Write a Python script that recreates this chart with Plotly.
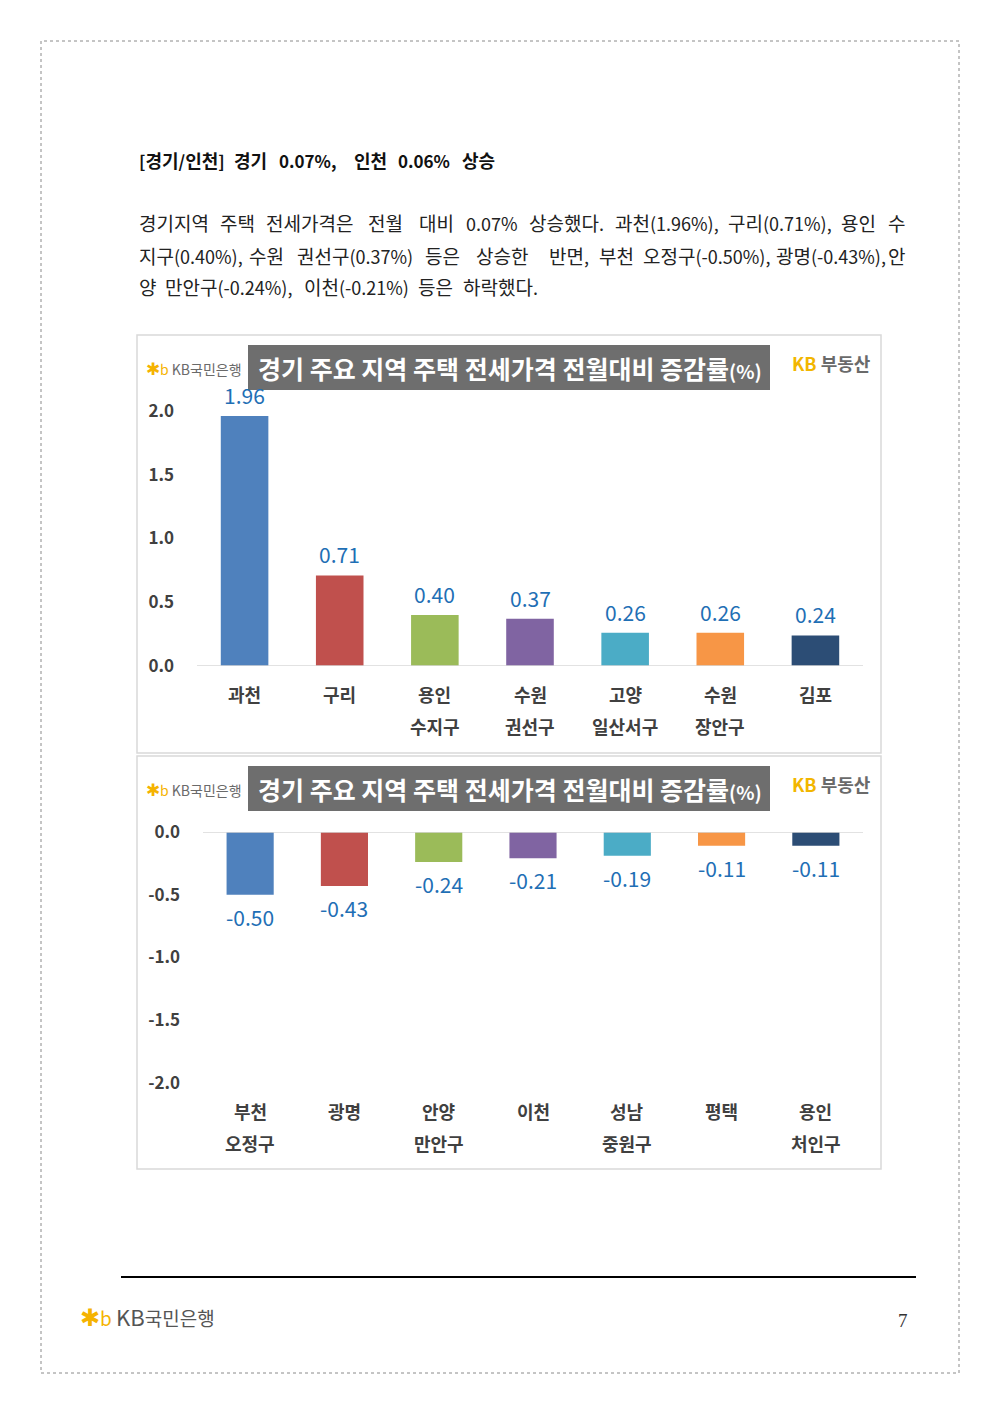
import re
import plotly.graph_objects as go

# ---------------- data ----------------
cats_up_l1 = ["과천", "구리", "용인", "수원", "고양", "수원", "김포"]
cats_up_l2 = ["", "", "수지구", "권선구", "일산서구", "장안구", ""]
vals_up = [1.96, 0.71, 0.40, 0.37, 0.26, 0.26, 0.24]

cats_dn_l1 = ["부천", "광명", "안양", "이천", "성남", "평택", "용인"]
cats_dn_l2 = ["오정구", "", "만안구", "", "중원구", "", "처인구"]
vals_dn = [-0.50, -0.43, -0.24, -0.21, -0.19, -0.11, -0.11]

ticks_up = [0.0, 0.5, 1.0, 1.5, 2.0]
ticks_dn = [0.0, -0.5, -1.0, -1.5, -2.0]

colors = ["#4F81BD", "#C0504D", "#9BBB59", "#8064A2", "#4BACC6", "#F79646", "#2C4D75"]

header = "[경기/인천] 경기 0.07%, 인천 0.06% 상승"
body_lines = [
    "경기지역 주택 전세가격은 전월 대비 0.07% 상승했다. 과천(1.96%), 구리(0.71%), 용인 수",
    "지구(0.40%), 수원 권선구(0.37%) 등은 상승한 반면, 부천 오정구(-0.50%), 광명(-0.43%), 안",
    "양 만안구(-0.24%), 이천(-0.21%) 등은 하락했다.",
]
chart_title = "경기 주요 지역 주택 전세가격 전월대비 증감률"

# word anchor positions (px): first word left edge, last word right edge (if justified), others centres
header_x = [137, 250, 308, 370, 424, 497]
body_x = [
    [137, 237.5, 309.5, 385, 436.5, 491.5, 566.5, 667, 779.5, 858, 907],
    [137, 266, 355, 442, 502, 568.5, 616, 706, 831, 907],
    [137, 228.5, 356.5, 435, 500],
]
body_justified = [True, True, False]

W, H = 1000, 1414
def X(px):
    return px / W
def Y(py):
    return 1 - py / H

KR = "Noto Sans CJK KR"
DARK = "#404040"
BLUE = "#1F6FB5"

annotations = []
shapes = []

def shrink_ascii(word, size):
    # Latin runs a little smaller, to match the narrower digits of the original font
    return re.sub(r"([^\uac00-\ud7a3]+)", lambda m: f"<span style='font-size:{size}px'>{m.group(1)}</span>", word)

def place_words(line, xs, py, size, asize, color, bold=False, right_last=True):
    words = line.split(" ")
    n = len(words)
    for i, (w, x) in enumerate(zip(words, xs)):
        if i == 0:
            anchor = "left"
        elif i == n - 1 and right_last:
            anchor = "right"
        else:
            anchor = "center"
        annotations.append(dict(
            x=X(x), y=Y(py), xref="paper", yref="paper", showarrow=False,
            xanchor=anchor, yanchor="middle", text=shrink_ascii(w, asize),
            font=dict(family=KR, size=size, color=color, weight="bold" if bold else "normal")))

keys_up = [f"u{i}" for i in range(len(vals_up))]
keys_dn = [f"d{i}" for i in range(len(vals_dn))]

fig = go.Figure()
fig.add_trace(go.Bar(x=keys_up, y=vals_up, marker_color=colors, marker_line_width=0,
                     xaxis="x", yaxis="y", showlegend=False, hoverinfo="skip"))
fig.add_trace(go.Bar(x=keys_dn, y=vals_dn, marker_color=colors, marker_line_width=0,
                     xaxis="x2", yaxis="y2", showlegend=False, hoverinfo="skip"))

# ---- data labels & category labels ----
for k, v, l1, l2 in zip(keys_up, vals_up, cats_up_l1, cats_up_l2):
    annotations.append(dict(x=k, y=v, xref="x", yref="y", text=f"{v:.2f}", showarrow=False,
                            yanchor="middle", yshift=21, font=dict(family=KR, size=21, color=BLUE)))
    annotations.append(dict(x=k, y=Y(694), xref="x", yref="paper", text=l1, showarrow=False,
                            yanchor="middle", font=dict(family=KR, size=18, color=DARK, weight="bold")))
    if l2:
        annotations.append(dict(x=k, y=Y(726), xref="x", yref="paper", text=l2, showarrow=False,
                                yanchor="middle", font=dict(family=KR, size=18, color=DARK, weight="bold")))
for k, v, l1, l2 in zip(keys_dn, vals_dn, cats_dn_l1, cats_dn_l2):
    annotations.append(dict(x=k, y=v, xref="x2", yref="y2", text=f"{v:.2f}", showarrow=False,
                            yanchor="middle", yshift=-22, font=dict(family=KR, size=21, color=BLUE)))
    annotations.append(dict(x=k, y=Y(1111), xref="x2", yref="paper", text=l1, showarrow=False,
                            yanchor="middle", font=dict(family=KR, size=18, color=DARK, weight="bold")))
    if l2:
        annotations.append(dict(x=k, y=Y(1143), xref="x2", yref="paper", text=l2, showarrow=False,
                                yanchor="middle", font=dict(family=KR, size=18, color=DARK, weight="bold")))

# ---- baselines ----
shapes.append(dict(type="line", xref="x domain", yref="y", x0=0, x1=1, y0=0, y1=0,
                   line=dict(color="#D9D9D9", width=1.5)))
shapes.append(dict(type="line", xref="x2 domain", yref="y2", x0=0, x1=1, y0=0, y1=0,
                   line=dict(color="#D9D9D9", width=1.5)))

# ---- page border, panels ----
shapes.append(dict(type="rect", xref="paper", yref="paper", x0=X(41), x1=X(959), y0=Y(1373), y1=Y(41),
                   line=dict(color="#8A8A8A", width=1, dash="dot")))
for top, bot in [(335, 753), (756, 1169)]:
    shapes.append(dict(type="rect", xref="paper", yref="paper", x0=X(137), x1=X(881), y0=Y(bot), y1=Y(top),
                       line=dict(color="#D9D9D9", width=1.5)))
for top, bot in [(345, 390), (766, 811)]:
    shapes.append(dict(type="rect", xref="paper", yref="paper", x0=X(248), x1=X(770), y0=Y(bot), y1=Y(top),
                       fillcolor="#6E6E6E", line=dict(width=0), layer="below"))
    cy = (top + bot) / 2
    annotations.append(dict(x=X(510), y=Y(cy), xref="paper", yref="paper", showarrow=False,
                            xanchor="center", yanchor="middle",
                            text=chart_title + "<span style='font-size:19px'>(%)</span>",
                            font=dict(family=KR, size=25, color="white", weight="bold")))
    annotations.append(dict(x=X(144), y=Y(top + 22), xref="paper", yref="paper", showarrow=False,
                            xanchor="left", yanchor="middle",
                            text="<span style='color:#F5B301;font-size:17px'>✱</span><span style='color:#F5B301'>b</span> KB국민은행",
                            font=dict(family=KR, size=14, color="#6A6A6A")))
    annotations.append(dict(x=X(790), y=Y(top + 18), xref="paper", yref="paper", showarrow=False,
                            xanchor="left", yanchor="middle",
                            text="<span style='color:#F2B600'>KB</span> 부동산",
                            font=dict(family=KR, size=18, color="#6A6A6A", weight="bold")))

# footer
shapes.append(dict(type="line", xref="paper", yref="paper", x0=X(121), x1=X(916), y0=Y(1277), y1=Y(1277),
                   line=dict(color="black", width=2)))
annotations.append(dict(x=X(78), y=Y(1315), xref="paper", yref="paper", showarrow=False,
                        xanchor="left", yanchor="middle",
                        text="<span style='color:#F5B301;font-size:24px'>✱</span><span style='color:#F5B301'>b</span> <span style='font-size:22px'>KB</span>국민은행",
                        font=dict(family=KR, size=19, color="#555555")))
annotations.append(dict(x=X(903), y=Y(1320), xref="paper", yref="paper", showarrow=False,
                        xanchor="center", yanchor="middle", text="7",
                        font=dict(family="Liberation Serif", size=19, color="#333333")))

# header + body text
place_words(header, header_x, 160, 18, 17, "#111111", bold=True, right_last=True)
for i, (line, xs, just) in enumerate(zip(body_lines, body_x, body_justified)):
    place_words(line, xs, 223 + 32 * i, 19, 18, "#222222", right_last=just)

axis_common = dict(automargin=False, showgrid=False, zeroline=False, showline=False)
fig.update_layout(
    width=W, height=H,
    margin=dict(l=0, r=0, t=0, b=0, autoexpand=False),
    paper_bgcolor="white", plot_bgcolor="white",
    bargap=0.5,
    showlegend=False,
    xaxis=dict(domain=[X(197), X(863)], anchor="y", showticklabels=False, ticks="", **axis_common),
    yaxis=dict(domain=[Y(666), Y(411)], anchor="x", range=[0, 2.0], tickvals=ticks_up,
               ticktext=[f"{t:.1f}" for t in ticks_up], ticklabelstandoff=22,
               tickfont=dict(family=KR, size=17, color=DARK, weight="bold"), **axis_common),
    xaxis2=dict(domain=[X(203), X(863)], anchor="y2", showticklabels=False, ticks="", **axis_common),
    yaxis2=dict(domain=[Y(1083), Y(832)], anchor="x2", range=[-2.0, 0], tickvals=ticks_dn,
                ticktext=[f"{t:.1f}" if t != 0 else "0.0" for t in ticks_dn], ticklabelstandoff=22,
                tickfont=dict(family=KR, size=17, color=DARK, weight="bold"), **axis_common),
    annotations=annotations,
    shapes=shapes,
)

fig.write_html("out.html")
